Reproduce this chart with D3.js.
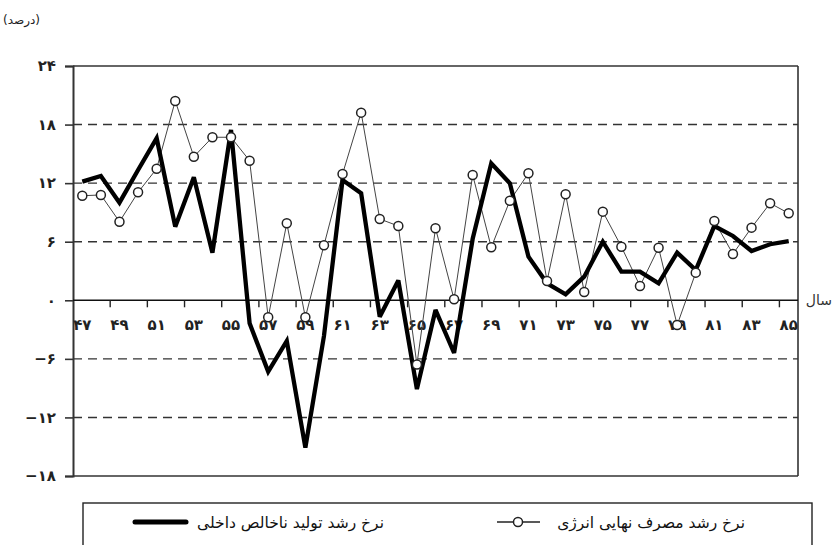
<!DOCTYPE html>
<html>
<head>
<meta charset="utf-8">
<script src="https://cdn.jsdelivr.net/npm/d3@7"></script>
<style>
  html, body { margin: 0; padding: 0; background: #fff; }
  svg { display: block; }
  text { font-family: "DejaVu Sans", "Noto Sans", sans-serif; }
</style>
</head>
<body>
<svg id="chart" width="840" height="545"></svg>
<script>
// ---------- data ----------
const years = [47,48,49,50,51,52,53,54,55,56,57,58,59,60,61,62,63,64,65,66,67,68,69,70,71,72,73,74,75,76,77,78,79,80,81,82,83,84,85];
const gdpGrowth = [12.15,12.73,10.0,13.35,16.6,7.54,12.6,4.88,17.45,-2.36,-7.31,-4.17,-15.1,-3.66,12.32,10.96,-1.68,2.03,-9.1,-0.99,-5.4,6.3,14.03,11.99,4.47,1.74,0.61,2.42,6.0,2.93,2.93,1.74,4.88,3.1,7.61,6.59,5.05,5.74,6.07];
const energyGrowth = [10.71,10.79,8.05,11.06,13.48,20.42,14.71,16.7,16.7,14.3,-1.74,7.89,-1.74,5.63,12.94,19.22,8.33,7.61,-6.58,7.38,0.1,12.84,5.43,10.2,13.01,1.98,10.86,0.85,9.08,5.49,1.46,5.39,-2.53,2.83,8.12,4.74,7.44,9.94,8.91];
const yTicks = [-18,-12,-6,0,6,12,18,24];
const gridValues = [-12,-6,6,12,18];
const xLabelYears = [47,49,51,53,55,57,59,61,63,65,67,69,71,73,75,77,79,81,83,85];
const xTickYears = [49,51,53,55,57,59,61,63,65,67,69,71,73,75,77,79,81,83,85];
const unitLabel = "(درصد)";
const xAxisTitle = "سال";
const legendGdp = "نرخ رشد تولید ناخالص داخلی";
const legendEnergy = "نرخ رشد مصرف نهایی انرژی";

// ---------- helpers ----------
const faDigits = "۰۱۲۳۴۵۶۷۸۹";
function toFa(n) {
  const s = String(Math.abs(n)).replace(/[0-9]/g, d => faDigits[+d]);
  return n < 0 ? "\u2212" + s : s;
}

const svg = d3.select("#chart");
const pLeft = 73, pRight = 798, pTop = 66, pBottom = 476;

const x = d3.scaleBand().domain(years).range([pLeft, pRight]).padding(0);
const y = d3.scaleLinear().domain([-18, 24]).range([pBottom, pTop]);
const cx = d => x(d) + x.bandwidth() / 2;

// grid lines (dashed)
svg.append("g").selectAll("line").data(gridValues).join("line")
  .attr("x1", pLeft).attr("x2", pRight)
  .attr("y1", d => y(d)).attr("y2", d => y(d))
  .attr("stroke", "#333").attr("stroke-width", 1.4)
  .attr("stroke-dasharray", "9,6");

// frame top / bottom / right
svg.append("line").attr("x1", pLeft).attr("x2", pRight).attr("y1", y(24)).attr("y2", y(24))
  .attr("stroke", "#333").attr("stroke-width", 1.6);
svg.append("line").attr("x1", pLeft).attr("x2", pRight).attr("y1", y(-18)).attr("y2", y(-18))
  .attr("stroke", "#333").attr("stroke-width", 1.6);
svg.append("line").attr("x1", pRight).attr("x2", pRight).attr("y1", y(24)).attr("y2", y(-18))
  .attr("stroke", "#333").attr("stroke-width", 1.6);

// y axis
const yAxis = d3.axisLeft(y).tickValues(yTicks).tickFormat(toFa).tickSize(8).tickPadding(9);
const gy = svg.append("g").attr("transform", `translate(${pLeft},0)`).call(yAxis);
gy.select(".domain").attr("stroke", "#333").attr("stroke-width", 2);
gy.selectAll(".tick line").attr("stroke", "#333").attr("stroke-width", 1.6);
gy.selectAll(".tick text").attr("font-size", 15).attr("font-weight", "bold").attr("fill", "#222")
  .style("font-family", "'DejaVu Sans', sans-serif");

// zero line
svg.append("line").attr("x1", pLeft).attr("x2", pRight).attr("y1", y(0)).attr("y2", y(0))
  .attr("stroke", "#111").attr("stroke-width", 1.6);

// x ticks (at band boundaries)
svg.append("g").selectAll("line").data(xTickYears).join("line")
  .attr("x1", d => x(d)).attr("x2", d => x(d))
  .attr("y1", y(0)).attr("y2", y(0) + 7)
  .attr("stroke", "#222").attr("stroke-width", 1.4);

// x labels (at band centres)
const xAxis = d3.axisBottom(x).tickValues(xLabelYears).tickFormat(toFa).tickSize(0).tickPadding(19);
const gx = svg.append("g").attr("transform", `translate(0,${y(0)})`).call(xAxis);
gx.select(".domain").remove();
gx.selectAll(".tick text").attr("font-size", 15).attr("font-weight", "bold").attr("fill", "#222")
  .style("font-family", "'DejaVu Sans', sans-serif");

// energy line (thin with circles)
const lineGen = d3.line().x((d, i) => cx(years[i])).y(d => y(d));
svg.append("path").datum(energyGrowth).attr("d", lineGen)
  .attr("fill", "none").attr("stroke", "#444").attr("stroke-width", 1);

// gdp thick line
svg.append("path").datum(gdpGrowth).attr("d", lineGen)
  .attr("fill", "none").attr("stroke", "#000").attr("stroke-width", 4.3)
  .attr("stroke-linejoin", "miter").attr("stroke-miterlimit", 3);

// energy markers
svg.append("g").selectAll("circle").data(energyGrowth).join("circle")
  .attr("cx", (d, i) => cx(years[i])).attr("cy", d => y(d)).attr("r", 4.5)
  .attr("fill", "#fff").attr("stroke", "#222").attr("stroke-width", 1.5);

// unit label & axis title
svg.append("text").attr("x", 40).attr("y", 24).attr("text-anchor", "end")
  .attr("font-size", 12).attr("fill", "#222")
  .text(unitLabel);
svg.append("text").attr("x", 832).attr("y", y(0) + 5).attr("text-anchor", "end")
  .attr("font-size", 14).attr("fill", "#333").text(xAxisTitle);

// legend
svg.append("rect").attr("x", 83).attr("y", 503).attr("width", 729).attr("height", 70)
  .attr("fill", "none").attr("stroke", "#222").attr("stroke-width", 1.4);
svg.append("text").attr("x", 384).attr("y", 528).attr("text-anchor", "end")
  .attr("font-size", 15.5).attr("fill", "#111").text(legendGdp);
svg.append("line").attr("x1", 135).attr("x2", 186).attr("y1", 522).attr("y2", 522)
  .attr("stroke", "#000").attr("stroke-width", 5).attr("stroke-linecap", "round");
svg.append("text").attr("x", 745).attr("y", 528).attr("text-anchor", "end")
  .attr("font-size", 15.5).attr("fill", "#111").text(legendEnergy);
svg.append("line").attr("x1", 497).attr("x2", 540).attr("y1", 522).attr("y2", 522)
  .attr("stroke", "#222").attr("stroke-width", 1.3);
svg.append("circle").attr("cx", 518).attr("cy", 522).attr("r", 4.5)
  .attr("fill", "#fff").attr("stroke", "#222").attr("stroke-width", 1.5);
</script>
</body>
</html>
